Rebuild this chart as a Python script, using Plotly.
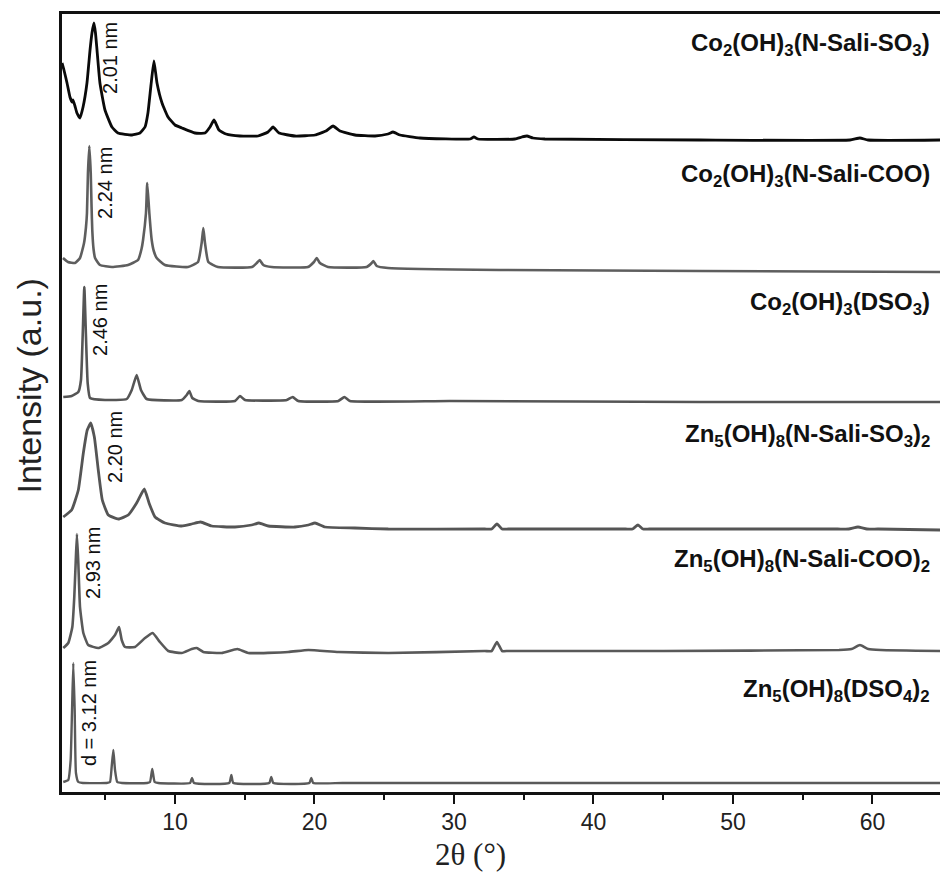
import plotly.graph_objects as go

# ---- XRD patterns: 2θ (deg) and intensity above each pattern's baseline (a.u.) ----
names = [
    "Co<sub>2</sub>(OH)<sub>3</sub>(N-Sali-SO<sub>3</sub>)",
    "Co<sub>2</sub>(OH)<sub>3</sub>(N-Sali-COO)",
    "Co<sub>2</sub>(OH)<sub>3</sub>(DSO<sub>3</sub>)",
    "Zn<sub>5</sub>(OH)<sub>8</sub>(N-Sali-SO<sub>3</sub>)<sub>2</sub>",
    "Zn<sub>5</sub>(OH)<sub>8</sub>(N-Sali-COO)<sub>2</sub>",
    "Zn<sub>5</sub>(OH)<sub>8</sub>(DSO<sub>4</sub>)<sub>2</sub>",
]
d_spacings = ["2.01 nm", "2.24 nm", "2.46 nm", "2.20 nm", "2.93 nm", "d = 3.12 nm"]

# vertical stacking offsets of the patterns
offsets = [652, 525, 392, 265, 140, 9]

co_salso3_tt = [1.90, 2.04, 2.26, 2.47, 2.62, 2.69, 2.83, 2.97, 3.19, 3.41, 3.69, 3.91, 4.05, 4.19,
                4.30, 4.41, 4.62, 4.98, 5.48, 5.91, 6.92, 7.49, 7.85, 8.06, 8.28, 8.49, 8.71, 9.07,
                9.50, 10.00, 10.50, 11.43, 12.15, 12.51, 12.80, 13.15, 13.66, 14.66, 15.95, 16.67,
                17.03, 17.46, 18.60, 20.04, 20.82, 21.33, 21.83, 22.90, 24.34, 25.27, 25.63, 26.13,
                27.56, 31.15, 31.43, 31.72, 34.37, 34.87, 35.23, 35.66, 36.52, 47.63, 58.39, 59.10,
                59.68, 64.84]
co_salso3_int = [77, 70, 57, 43, 38, 40, 34, 27, 22, 33, 57, 90, 107, 117,
                 107, 90, 57, 30, 13, 7, 5, 7, 13, 27, 55, 79, 57, 37,
                 23, 15, 12, 7, 7, 13, 20, 10, 6, 4, 4, 8,
                 13, 7, 4, 5, 9, 14, 9, 5, 4, 6, 8, 5,
                 2, 1, 3, 1, 1, 3, 4, 2, 1, 0, 0, 2,
                 0, 0]

co_salcoo_tt = [1.97, 2.33, 2.83, 3.19, 3.48, 3.62, 3.69, 3.76, 3.86, 3.96, 4.02, 4.07, 4.16, 4.27,
                4.62, 5.48, 6.63, 7.35, 7.60, 7.71, 7.92, 8.01, 8.16, 8.33, 8.48, 8.69, 9.28, 10.93,
                11.65, 11.91, 12.03, 12.15, 12.39, 13.08, 15.52, 15.86, 16.07, 16.33, 16.93, 19.53,
                19.96, 20.16, 20.39, 20.97, 23.74, 24.10, 24.22, 24.46, 25.27, 33.30, 47.63, 64.84]
co_salcoo_int = [9, 5, 4, 9, 24, 40, 54, 94, 121, 94, 60, 37, 18, 9,
                 2, 0, 2, 7, 18, 27, 54, 84, 54, 27, 16, 9, 2, 0,
                 5, 24, 39, 24, 5, 0, 0, 4, 7, 2, 0, 0,
                 5, 9, 4, 0, 0, 4, 6, 1, -1, -3, -4, -5]

co_dso3_tt = [1.99, 2.59, 3.07, 3.26, 3.38, 3.50, 3.62, 3.74, 3.91, 4.98, 6.54, 6.90, 7.25, 7.56,
              7.97, 10.48, 10.84, 11.03, 11.24, 11.67, 14.30, 14.66, 15.02, 18.01, 18.44, 18.84,
              21.71, 22.14, 22.54, 29.71, 47.63, 64.84]
co_dso3_int = [3, 4, 8, 20, 63, 113, 63, 17, 2, 0, 1, 10, 25, 10,
               1, 0, 5, 9, 2, -1, -1, 4, 0, 0, 3, -1,
               -1, 3, -1, -1, -2, -2]

zn_salso3_tt = [1.99, 2.59, 3.07, 3.43, 3.71, 3.96, 4.22, 4.50, 4.79, 5.22, 5.94, 6.65, 7.25, 7.80,
                8.14, 8.57, 9.28, 10.48, 11.20, 11.84, 12.63, 14.30, 15.50, 16.02, 16.69, 18.60,
                19.56, 20.04, 20.75, 22.90, 25.29, 32.20, 32.70, 33.08, 33.45, 33.90, 42.30, 42.80,
                43.19, 43.55, 44.00, 57.50, 58.30, 58.96, 59.60, 60.40, 64.84]
zn_salso3_int = [10, 17, 37, 74, 97, 104, 90, 57, 27, 12, 8, 12, 24, 38,
                 24, 10, 4, 1, 3, 5, 1, 0, 2, 4, 1, 0,
                 2, 4, 0, -1, -2, -2, -2, 3, -2, -2, -2, -2,
                 2, -2, -2, -2, -2, 0, -2, -2, -3]

zn_salcoo_tt = [1.99, 2.35, 2.64, 2.78, 2.88, 2.97, 3.07, 3.19, 3.43, 3.78, 4.50, 5.22, 5.70, 5.99,
                6.18, 6.42, 7.13, 7.85, 8.40, 8.92, 9.52, 10.48, 11.20, 11.56, 12.03, 13.35, 14.47,
                15.25, 18.12, 19.56, 21.71, 25.29, 32.20, 32.70, 33.08, 33.45, 33.90, 45.00, 57.60,
                58.50, 59.10, 59.70, 60.60, 64.84]
zn_salcoo_int = [4, 9, 25, 55, 89, 118, 89, 45, 19, 7, 4, 9, 17, 25,
                 12, 5, 5, 14, 19, 10, 1, -1, 3, 4, 0, -1, 3,
                 -1, 0, 2, 0, -1, 1, 1, 10, 1, 1, 1, 2,
                 3, 7, 3, 2, 1]

zn_dso4_tt = [1.99, 2.35, 2.52, 2.62, 2.71, 2.81, 2.90, 3.07, 3.40, 5.10, 5.34, 5.46, 5.58, 5.70,
              5.86, 6.20, 8.00, 8.21, 8.37, 8.54, 8.80, 11.08, 11.22, 11.36, 13.89, 14.04, 14.18,
              16.76, 16.90, 17.05, 19.63, 19.77, 19.91, 22.00, 30.00, 45.00, 64.84]
zn_dso4_int = [1, 3, 23, 73, 120, 73, 10, 1, 0, 0, 1, 16, 33, 13,
               1, 0, 0, 1, 14, 1, 0, 0, 5, 0, 0, 8, 0,
               0, 6, 0, 0, 5, 0, 0, 0, 0, 0]

patterns = [
    (co_salso3_tt, co_salso3_int),
    (co_salcoo_tt, co_salcoo_int),
    (co_dso3_tt, co_dso3_int),
    (zn_salso3_tt, zn_salso3_int),
    (zn_salcoo_tt, zn_salcoo_int),
    (zn_dso4_tt, zn_dso4_int),
]
line_colors = ["#0a0a0a", "#5e5e5e", "#555555", "#555555", "#595959", "#5a5a5a"]
line_widths = [2.8, 2.6, 2.6, 2.8, 2.6, 2.4]

# label placement (data coordinates)
name_y = [748, 617, 489, 357, 232, 102]
d_label_x = [5.34, 4.98, 4.62, 5.70, 4.12, 3.84]
d_label_y = [734, 609, 472, 345, 229, 79]

fig = go.Figure()
for (tt, inten), off, col, lw in zip(patterns, offsets, line_colors, line_widths):
    fig.add_trace(go.Scatter(
        x=tt, y=[v + off for v in inten], mode="lines",
        line=dict(color=col, width=lw, shape="spline", smoothing=0.4),
        showlegend=False, hoverinfo="skip"))

annotations = []
for nm, yy in zip(names, name_y):
    annotations.append(dict(
        text="<b>" + nm + "</b>", x=0.991, xref="paper", xanchor="right",
        y=yy, yref="y", yanchor="middle", showarrow=False,
        font=dict(family="Liberation Sans, Arial", size=24, color="#111111")))
for lab, xx, yy in zip(d_spacings, d_label_x, d_label_y):
    annotations.append(dict(
        text=lab, x=xx, y=yy, xref="x", yref="y", textangle=-90,
        showarrow=False, xanchor="center", yanchor="middle",
        font=dict(family="Liberation Sans, Arial", size=20, color="#111111")))
annotations.append(dict(
    text="Intensity (a.u.)", x=-0.038, xref="paper", y=0.522, yref="paper",
    textangle=-90, showarrow=False, xanchor="center", yanchor="middle",
    font=dict(family="Liberation Sans, Arial", size=34, color="#222222")))
annotations.append(dict(
    text="2θ (°)", x=0.465, xref="paper", y=-0.080, yref="paper",
    showarrow=False, xanchor="center", yanchor="middle",
    font=dict(family="Liberation Serif, Times New Roman", size=31, color="#222222")))

fig.update_layout(
    width=940, height=872,
    margin=dict(l=62, r=0, t=14, b=80),
    paper_bgcolor="white", plot_bgcolor="white",
    annotations=annotations,
    xaxis=dict(
        range=[1.9, 64.84], tickmode="linear", tick0=10, dtick=10,
        ticks="outside", ticklen=9, tickwidth=2.2, tickcolor="#111111",
        minor=dict(dtick=5, tick0=5, ticks="outside", ticklen=5, tickwidth=2.2, tickcolor="#111111"),
        showline=True, linecolor="#111111", linewidth=2.8, mirror=True,
        showgrid=False, zeroline=False, ticklabelstandoff=-2,
        tickfont=dict(family="Liberation Sans, Arial", size=23, color="#222222"),
    ),
    yaxis=dict(
        range=[0, 778], showticklabels=False, ticks="",
        showline=True, linecolor="#111111", linewidth=2.8, mirror=False,
        showgrid=False, zeroline=False,
    ),
)

fig.write_html("out.html")
